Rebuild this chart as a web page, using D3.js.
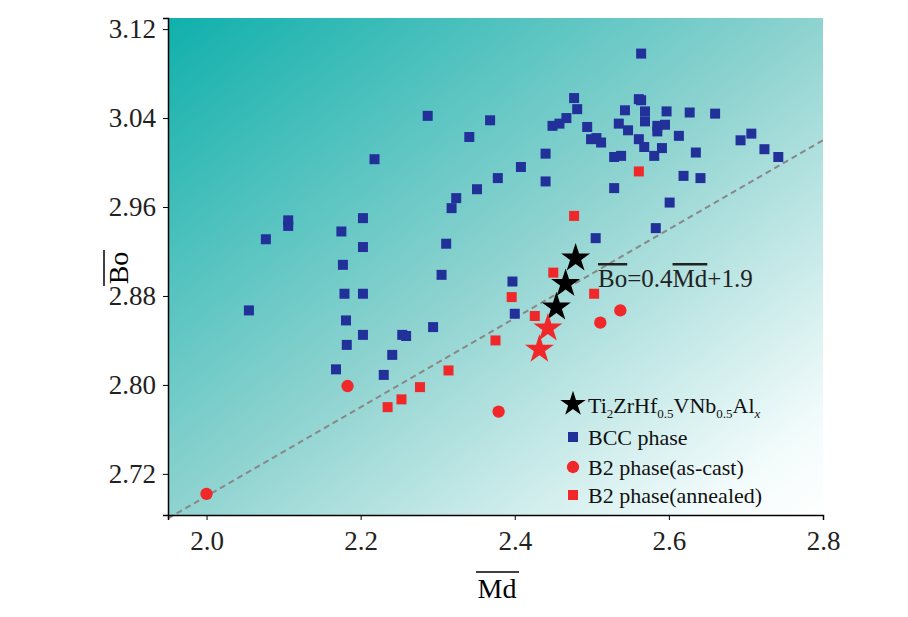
<!DOCTYPE html><html><head><meta charset="utf-8"><script src="https://cdn.jsdelivr.net/npm/d3@7"></script>
<style>body{margin:0;background:#fff}svg text{font-family:"Liberation Serif","DejaVu Serif",serif !important}</style></head><body><svg id="c" width="908" height="617"></svg><script>
const xTicks=[2.0,2.2,2.4,2.6,2.8];
const yTicks=[2.72,2.80,2.88,2.96,3.04,3.12];
const bcc=[[2.287,3.042],[2.218,3.003],[2.318,2.959],[2.324,2.968],[2.106,2.948],[2.106,2.943],[2.077,2.931],[2.175,2.938],[2.203,2.950],[2.203,2.924],[2.177,2.908],[2.311,2.927],[2.305,2.899],[2.179,2.882],[2.203,2.882],[2.055,2.867],[2.181,2.858],[2.203,2.845],[2.182,2.836],[2.294,2.852],[2.254,2.845],[2.259,2.844],[2.241,2.827],[2.168,2.814],[2.230,2.809],
[2.564,3.098],[2.477,3.058],[2.481,3.048],[2.368,3.038],[2.341,3.023],[2.449,3.033],[2.458,3.035],[2.467,3.040],[2.494,3.032],[2.499,3.021],[2.506,3.022],[2.512,3.018],[2.529,3.005],[2.538,3.006],[2.440,3.008],[2.440,2.983],[2.408,2.996],[2.378,2.986],[2.351,2.976],[2.529,2.977],[2.561,3.057],[2.564,3.056],[2.543,3.047],[2.569,3.046],[2.569,3.037],[2.597,3.046],[2.627,3.045],[2.660,3.044],[2.535,3.035],[2.547,3.029],[2.585,3.033],[2.595,3.034],[2.585,3.028],[2.561,3.021],[2.568,3.014],[2.581,3.006],[2.591,3.013],[2.613,3.024],[2.635,3.009],[2.693,3.020],[2.707,3.026],[2.724,3.012],[2.742,3.005],[2.619,2.988],[2.641,2.986],[2.601,2.964],[2.583,2.941],[2.505,2.932],[2.397,2.893],[2.400,2.864]];
const b2cast=[[2.000,2.702],[2.183,2.799],[2.379,2.776],[2.511,2.856],[2.537,2.867]];
const b2ann=[[2.235,2.780],[2.253,2.787],[2.277,2.798],[2.314,2.813],[2.561,2.992],[2.477,2.952],[2.450,2.901],[2.396,2.879],[2.426,2.862],[2.503,2.882],[2.375,2.840]];
const alloyBlack=[[2.479,2.914],[2.466,2.891],[2.454,2.870]];
const alloyRed=[[2.443,2.851],[2.432,2.832]];
const fitLine=[[1.95,2.68],[2.8,3.02]];
const svg=d3.select("#c");
const L=168,R=823,T=18,B=515;
const x=d3.scaleLinear().domain([1.95,2.8]).range([L,R]);
const y=d3.scaleLinear().domain([2.683,3.13]).range([B,T]);
const defs=svg.append("defs");
const g=defs.append("linearGradient").attr("id","bg").attr("x1","0").attr("y1","0").attr("x2","1").attr("y2","1");
g.append("stop").attr("offset","0").attr("stop-color","#10b0ac");
g.append("stop").attr("offset","0.5").attr("stop-color","#8ed3d0");
g.append("stop").attr("offset","0.9").attr("stop-color","#f2fbfb");
g.append("stop").attr("offset","1").attr("stop-color","#ffffff");
svg.append("rect").attr("x",L).attr("y",T).attr("width",R-L).attr("height",B-T).attr("fill","url(#bg)");
svg.append("line").attr("x1",x(fitLine[0][0])).attr("y1",y(fitLine[0][1])).attr("x2",x(fitLine[1][0])).attr("y2",y(fitLine[1][1])).attr("stroke","#888").attr("stroke-width",2).attr("stroke-dasharray","6,4");
const sq=d3.symbol().type(d3.symbolSquare).size(100);
const ci=d3.symbol().type(d3.symbolCircle).size(120);
const st=d3.symbol().type(d3.symbolStar).size(260);
svg.append("g").selectAll("path").data(bcc).join("path").attr("d",sq).attr("fill","#22309a").attr("transform",d=>`translate(${x(d[0])},${y(d[1])})`);
svg.append("g").selectAll("path").data(b2ann).join("path").attr("d",sq).attr("fill","#f0282a").attr("transform",d=>`translate(${x(d[0])},${y(d[1])})`);
svg.append("g").selectAll("path").data(b2cast).join("path").attr("d",ci).attr("fill","#f0282a").attr("transform",d=>`translate(${x(d[0])},${y(d[1])})`);
svg.append("g").selectAll("path").data(alloyBlack).join("path").attr("d",st).attr("fill","#000").attr("transform",d=>`translate(${x(d[0])},${y(d[1])})`);
svg.append("g").selectAll("path").data(alloyRed).join("path").attr("d",st).attr("fill","#f0282a").attr("transform",d=>`translate(${x(d[0])},${y(d[1])})`);
const xa=svg.append("g").attr("transform",`translate(0,${B})`).call(d3.axisBottom(x).tickValues(xTicks).tickFormat(d3.format(".1f")).tickSize(5));
const ya=svg.append("g").attr("transform",`translate(${L},0)`).call(d3.axisLeft(y).tickValues(yTicks).tickFormat(d3.format(".2f")).tickSize(5));
[xa,ya].forEach(a=>{a.attr("font-family",null);a.selectAll("text").attr("font-size",27).attr("fill","#222");a.select(".domain").attr("stroke-width",1.5);});
xa.selectAll("text").attr("dy","1.0em");
ya.selectAll("text").attr("dx","-0.15em");
svg.append("text").attr("x",497).attr("y",598).attr("text-anchor","middle").attr("font-size",28).text("Md");
svg.append("line").attr("x1",476).attr("x2",519).attr("y1",572).attr("y2",572).attr("stroke","#000").attr("stroke-width",1.5);
const yl=svg.append("g").attr("transform","translate(128,268) rotate(-90)");
yl.append("text").attr("text-anchor","middle").attr("font-size",28).text("Bo");
yl.append("line").attr("x1",-18).attr("x2",18).attr("y1",-24).attr("y2",-24).attr("stroke","#000").attr("stroke-width",1.5);
const eq=svg.append("text").attr("x",598).attr("y",287).attr("font-size",25).attr("fill","#222");
eq.append("tspan").attr("text-decoration","overline").text("Bo");
eq.append("tspan").text("=0.4");
eq.append("tspan").attr("text-decoration","overline").text("Md");
eq.append("tspan").text("+1.9");
const lg=svg.append("g");
lg.append("path").attr("d",d3.symbol().type(d3.symbolStar).size(200)).attr("fill","#000").attr("transform","translate(573,404)");
const t1=lg.append("text").attr("x",588).attr("y",413).attr("font-size",22).attr("fill","#111");
t1.append("tspan").text("Ti");t1.append("tspan").attr("font-size",13).attr("dy",5).text("2");
t1.append("tspan").attr("dy",-5).text("ZrHf");t1.append("tspan").attr("font-size",13).attr("dy",5).text("0.5");
t1.append("tspan").attr("dy",-5).text("VNb");t1.append("tspan").attr("font-size",13).attr("dy",5).text("0.5");
t1.append("tspan").attr("dy",-5).text("Al");t1.append("tspan").attr("font-size",13).attr("dy",5).attr("font-style","italic").text("x");
lg.append("path").attr("d",sq).attr("fill","#22309a").attr("transform","translate(573,437)");
lg.append("text").attr("x",588).attr("y",445).attr("font-size",22).attr("fill","#111").text("BCC phase");
lg.append("path").attr("d",ci).attr("fill","#f0282a").attr("transform","translate(573,467)");
lg.append("text").attr("x",588).attr("y",475).attr("font-size",22).attr("fill","#111").text("B2 phase(as-cast)");
lg.append("path").attr("d",sq).attr("fill","#f0282a").attr("transform","translate(573,495)");
lg.append("text").attr("x",588).attr("y",503).attr("font-size",22).attr("fill","#111").text("B2 phase(annealed)");
</script></body></html>
